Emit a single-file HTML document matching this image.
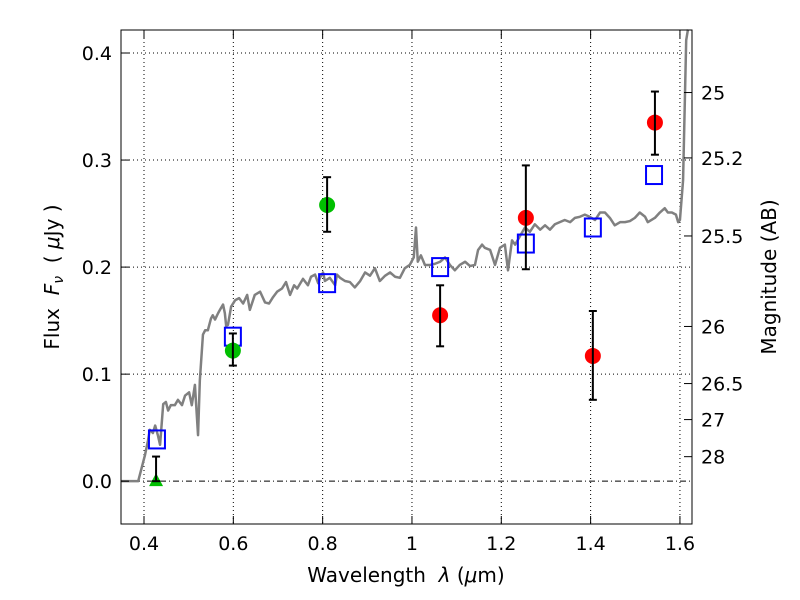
<!DOCTYPE html>
<html><head><meta charset="utf-8"><style>
body{margin:0;background:#fff;}
svg{display:block;font-family:"DejaVu Sans","Liberation Sans",sans-serif;}
</style></head><body>
<svg id="chart" width="800" height="600" viewBox="0 0 800 600"></svg>
<script>
const specWave=[0.349,0.387,0.402,0.409,0.413,0.420,0.425,0.431,0.436,0.443,0.449,0.454,0.460,0.469,0.476,0.485,0.492,0.501,0.507,0.514,0.521,0.525,0.532,0.537,0.543,0.550,0.554,0.559,0.566,0.570,0.577,0.581,0.584,0.588,0.595,0.604,0.613,0.622,0.631,0.637,0.648,0.660,0.671,0.680,0.689,0.698,0.709,0.718,0.727,0.736,0.743,0.756,0.767,0.774,0.783,0.790,0.794,0.801,0.805,0.816,0.828,0.832,0.839,0.850,0.861,0.872,0.884,0.895,0.906,0.917,0.928,0.940,0.951,0.962,0.973,0.984,0.995,1.004,1.009,1.013,1.020,1.029,1.040,1.051,1.063,1.074,1.085,1.096,1.107,1.119,1.130,1.141,1.148,1.157,1.163,1.175,1.186,1.197,1.208,1.215,1.224,1.231,1.242,1.253,1.264,1.275,1.287,1.298,1.309,1.320,1.331,1.342,1.354,1.365,1.376,1.387,1.398,1.410,1.421,1.432,1.443,1.454,1.466,1.477,1.488,1.499,1.510,1.522,1.528,1.544,1.555,1.566,1.573,1.582,1.591,1.596,1.600,1.607,1.611,1.614,1.618];
const specFlux=[0,0,0.024,0.038,0.048,0.045,0.052,0.043,0.034,0.072,0.074,0.066,0.071,0.071,0.076,0.071,0.080,0.083,0.071,0.090,0.043,0.094,0.137,0.141,0.141,0.152,0.155,0.151,0.157,0.160,0.165,0.157,0.145,0.146,0.163,0.169,0.171,0.166,0.174,0.160,0.174,0.177,0.167,0.166,0.172,0.177,0.180,0.186,0.174,0.183,0.180,0.189,0.183,0.191,0.193,0.185,0.190,0.195,0.187,0.190,0.183,0.193,0.190,0.187,0.186,0.181,0.187,0.195,0.192,0.199,0.187,0.192,0.195,0.191,0.190,0.199,0.202,0.209,0.237,0.205,0.211,0.202,0.202,0.203,0.205,0.209,0.202,0.197,0.202,0.205,0.201,0.202,0.216,0.221,0.218,0.216,0.202,0.218,0.221,0.197,0.225,0.221,0.229,0.237,0.233,0.240,0.235,0.239,0.235,0.240,0.242,0.244,0.242,0.246,0.247,0.249,0.247,0.244,0.251,0.251,0.246,0.239,0.242,0.242,0.243,0.246,0.251,0.247,0.242,0.246,0.251,0.255,0.251,0.251,0.249,0.242,0.244,0.281,0.356,0.412,0.422];
const greenWave=[0.599,0.810];
const greenFlux=[0.122,0.258];
const greenLo=[0.108,0.233];
const greenHi=[0.138,0.284];
const triWave=[0.427];
const triFlux=[0.0];
const triHi=[0.023];
const redWave=[1.063,1.255,1.405,1.544];
const redFlux=[0.155,0.246,0.117,0.335];
const redLo=[0.126,0.198,0.076,0.305];
const redHi=[0.183,0.295,0.159,0.364];
const boxWave=[0.429,0.599,0.810,1.063,1.255,1.405,1.542];
const boxFlux=[0.039,0.135,0.185,0.200,0.222,0.237,0.286];
const xTicks=[0.4,0.6,0.8,1.0,1.2,1.4,1.6];
const xTickLabels=["0.4","0.6","0.8","1","1.2","1.4","1.6"];
const yTicks=[0.0,0.1,0.2,0.3,0.4];
const yTickLabels=["0.0","0.1","0.2","0.3","0.4"];
const magTicks=[25,25.2,25.5,26,26.5,27,28];
const magLabels=["25","25.2","25.5","26","26.5","27","28"];

const L=121,R=692,T=30,B=524,X0=0.3485,X1=1.627,Y0=-0.040,Y1=0.4215;
const sx=v=>L+(v-X0)/(X1-X0)*(R-L);
const sy=v=>B-(v-Y0)/(Y1-Y0)*(B-T);
const NS="http://www.w3.org/2000/svg";
const svg=document.getElementById('chart');
function mk(tag,attrs,parent){const e=document.createElementNS(NS,tag);for(const k in attrs)e.setAttribute(k,attrs[k]);(parent||svg).appendChild(e);return e;}

const grid=mk('g',{});


xTicks.forEach(v=>{mk('line',{x1:sx(v),x2:sx(v),y1:T,y2:B,stroke:'#000','stroke-width':1,'stroke-dasharray':'1,3'},grid);});
yTicks.forEach(v=>{if(v!==0)mk('line',{x1:L,x2:R,y1:sy(v),y2:sy(v),stroke:'#000','stroke-width':1,'stroke-dasharray':'1,3'},grid);});
const zl=mk('line',{x1:L,x2:R,y1:sy(0),y2:sy(0),stroke:'#000','stroke-width':1,'stroke-dasharray':'6,3,1,3'});



const spec=mk('polyline',{points:specWave.map((w,i)=>sx(w)+','+sy(specFlux[i])).join(' '),fill:'none',stroke:'#808080','stroke-width':2.5,'stroke-linejoin':'round'});



function errbar(x,lo,hi,name){const g=mk('g',{stroke:'#000','stroke-width':2});


mk('line',{x1:sx(x),x2:sx(x),y1:sy(lo),y2:sy(hi)},g);
mk('line',{x1:sx(x)-4,x2:sx(x)+4,y1:sy(lo),y2:sy(lo)},g);
mk('line',{x1:sx(x)-4,x2:sx(x)+4,y1:sy(hi),y2:sy(hi)},g);}

boxWave.forEach((w,i)=>{const r=mk('rect',{x:sx(w)-8,y:sy(boxFlux[i])-9,width:16,height:18,fill:'none',stroke:'#0000ff','stroke-width':2});

});
greenWave.forEach((w,i)=>{const c=mk('circle',{cx:sx(w),cy:sy(greenFlux[i]),r:8,fill:'#00bf00'});


errbar(w,greenLo[i],greenHi[i],'green-errorbar');});
triWave.forEach((w,i)=>{const x=sx(w),y=sy(triFlux[i]);
const p=mk('polygon',{points:`${x},${y-8} ${x-7},${y+5} ${x+7},${y+5}`,fill:'#00bf00'});


errbar(w,triFlux[i],triHi[i],'triangle-errorbar');});
redWave.forEach((w,i)=>{const c=mk('circle',{cx:sx(w),cy:sy(redFlux[i]),r:8,fill:'#ff0000'});


errbar(w,redLo[i],redHi[i],'red-errorbar');});

const frame=mk('rect',{x:L,y:T,width:R-L,height:B-T,fill:'none',stroke:'#000','stroke-width':1});



xTicks.forEach((v,i)=>{mk('line',{x1:sx(v),x2:sx(v),y1:B,y2:B-8,stroke:'#000'});mk('line',{x1:sx(v),x2:sx(v),y1:T,y2:T+8,stroke:'#000'});
const t=mk('text',{x:sx(v),y:B+26,'font-size':19,'text-anchor':'middle'});t.textContent=xTickLabels[i];

});
yTicks.forEach((v,i)=>{mk('line',{x1:L,x2:L+8,y1:sy(v),y2:sy(v),stroke:'#000'});
const t=mk('text',{x:L-9,y:sy(v)+7,'font-size':19,'text-anchor':'end'});t.textContent=yTickLabels[i];

});
magTicks.forEach((m,i)=>{const f=Math.pow(10,(23.9-m)/2.5);const y=sy(f);
mk('line',{x1:R,x2:R-8,y1:y,y2:y,stroke:'#000'});
const t=mk('text',{x:R+9,y:y+7,'font-size':19});t.textContent=magLabels[i];

});

const xt=mk('text',{x:406,y:582,'font-size':20,'text-anchor':'middle'});
xt.innerHTML='Wavelength\u00a0\u00a0<tspan font-style="italic">λ</tspan> (<tspan font-style="italic">μ</tspan>m)';


const yt=mk('text',{x:0,y:0,'font-size':20,'text-anchor':'middle',transform:'translate(59,277) rotate(-90)'});
yt.innerHTML='Flux\u00a0\u00a0<tspan font-style="italic">F</tspan><tspan font-style="italic" font-size="14" dy="4">ν</tspan><tspan dy="-4">\u00a0\u00a0(\u00a0</tspan><tspan font-style="italic">μ</tspan>Jy )';


const yt2=mk('text',{x:0,y:0,'font-size':20,'text-anchor':'middle',transform:'translate(776,277) rotate(-90)'});
yt2.textContent='Magnitude (AB)';


</script>
</body></html>
